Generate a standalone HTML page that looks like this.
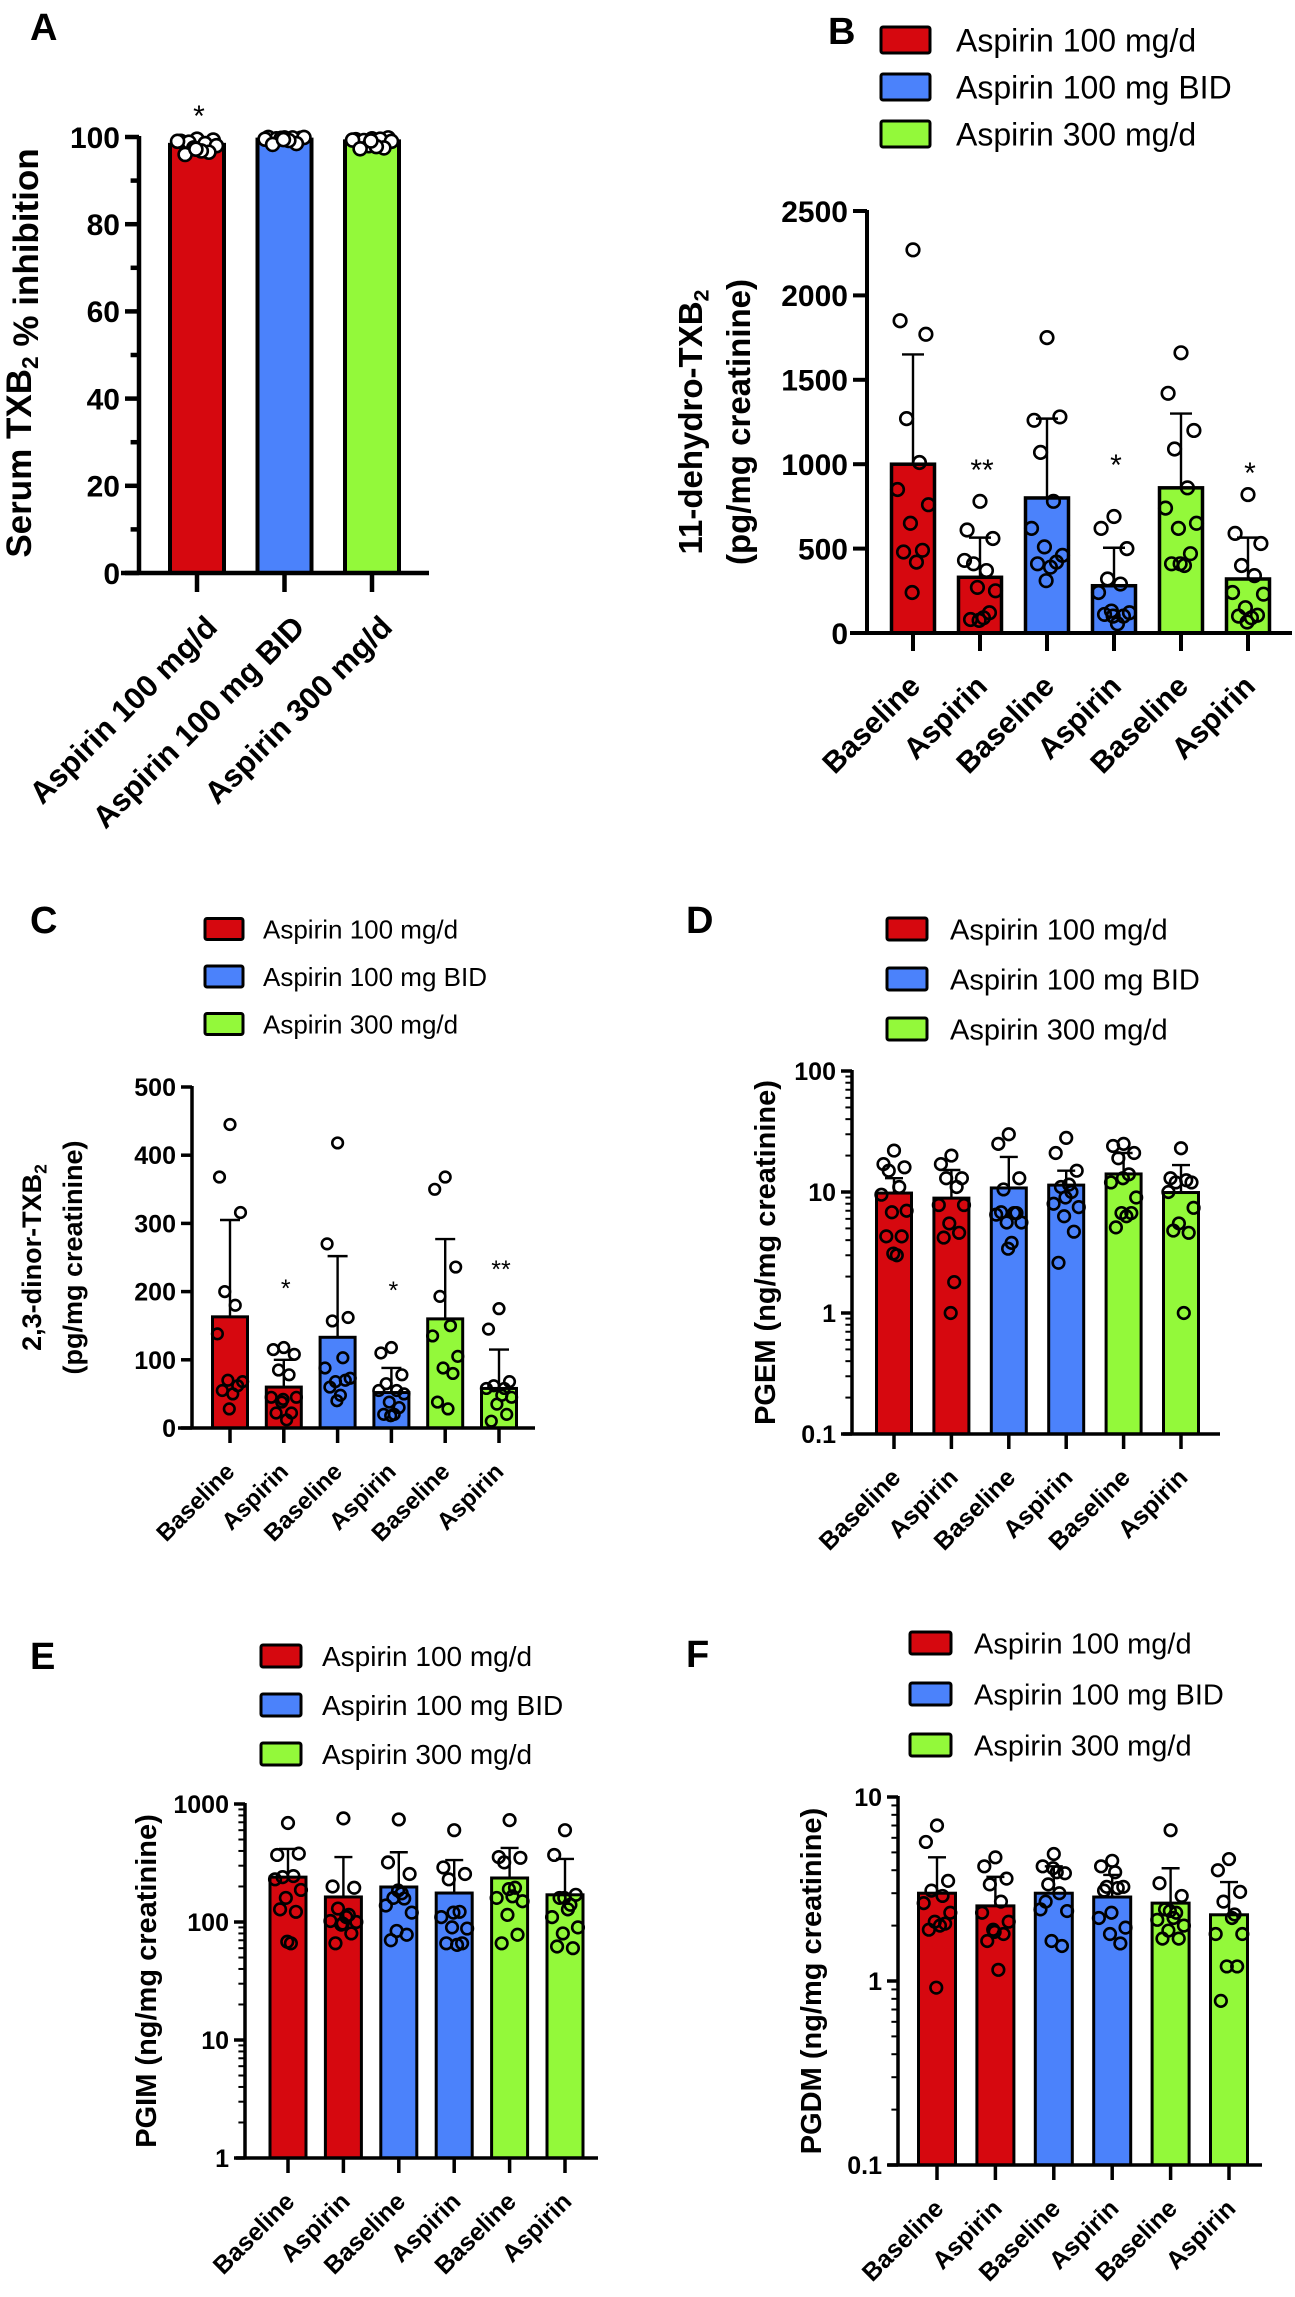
<!DOCTYPE html>
<html><head><meta charset="utf-8"><title>Aspirin eicosanoid panels</title>
<style>
html,body{margin:0;padding:0;background:#fff;}
svg{display:block;font-family:"Liberation Sans",Arial,sans-serif;}
</style></head>
<body>
<svg id="fig" width="1295" height="2297" viewBox="0 0 1295 2297" xmlns="http://www.w3.org/2000/svg"></svg>
<script>
// ---------- data ----------
const GROUPS = ['Aspirin 100 mg/d','Aspirin 100 mg BID','Aspirin 300 mg/d'];
const CATS = ['Baseline','Aspirin','Baseline','Aspirin','Baseline','Aspirin'];
const COLORS = ['#d6080f','#4b82fb','#93f93a'];

// Panel A
const A_MEANS = [98.2, 99.4, 99.0];
const A_POINTS = [
  [99.5,99,99.3,98.8,98.5,99,98,97.5,96.5,96,96.8,97.2],
  [99.8,99.9,99.7,99.6,99.8,99.5,99.9,99.7,98.5,98.3,99.2,99.4],
  [99.6,99.4,99.8,99.2,99.5,99.3,99.0,98,97.5,97.3,97.8,99.1]
];
const A_STARS = ['*','',''];
const A_TICKS = [0,20,40,60,80,100];

// Panel B
const B_MEANS = [1000,330,800,280,860,320];
const B_SD = [1650,565,1270,505,1300,565];
const B_POINTS = [
  [2270,1850,1770,1270,1010,850,760,650,490,480,420,240],
  [780,610,560,410,370,430,250,270,120,80,90,75],
  [1750,1260,1280,1070,780,620,460,510,420,410,390,310],
  [690,620,500,320,290,240,120,130,100,110,55,100],
  [1660,1420,1200,1090,860,740,650,620,470,410,400,410],
  [820,590,530,400,340,240,230,150,105,100,90,65]
];
const B_STARS = ['','**','','*','','*'];
const B_TICKS = [0,500,1000,1500,2000,2500];

// Panel C
const C_MEANS = [163,60,133,52,160,58];
const C_SD = [305,100,252,88,277,115];
const C_POINTS = [
  [445,368,316,200,180,138,68,70,62,55,50,28],
  [118,115,108,85,78,45,45,38,22,22,12,42],
  [418,270,162,157,103,88,73,68,70,60,48,40],
  [118,110,78,65,55,55,50,38,30,20,20,18],
  [368,350,236,193,150,135,105,88,80,38,28],
  [175,145,68,62,58,58,45,35,20,10,48]
];
const C_STARS = ['','*','','*','','**'];
const C_TICKS = [0,100,200,300,400,500];

// Panel D (log)
const D_MEANS = [9.8,8.9,10.8,11.4,14.1,9.9];
const D_SD = [13,15.2,19.5,15,21,16.7];
const D_POINTS = [
  [22,17,16,15,11,9.5,7,6.8,4.3,4.3,3.0,3.1],
  [20,17,13,13,11,7.8,7.8,5.5,4.6,4.2,1.8,1.0],
  [30,25,13,10.5,6.7,6.5,5.6,5.6,6.7,6.8,3.8,3.4],
  [28,21,15,11,10,8,7.5,6.3,4.7,2.6,11.5,9],
  [25,24,21,19,14,12,9,6.7,6.7,5.1,6.3,13],
  [23,13,12,12,12.5,10,7.4,5.5,4.6,4.8,1.0]
];
const D_TICKS = [0.1,1,10,100];
const D_TICK_LABELS = ['0.1','1','10','100'];

// Panel E (log)
const E_MEANS = [240,163,198,176,236,170];
const E_SD = [416,355,390,335,424,342];
const E_POINTS = [
  [690,370,380,240,245,230,187,160,122,128,66,68],
  [755,200,195,130,115,102,100,95,80,66,110,97],
  [740,320,255,160,158,138,120,84,78,70,175,185],
  [600,290,255,230,122,110,88,90,66,66,64,120],
  [730,355,350,320,195,160,150,115,78,66,165,190],
  [600,370,170,160,140,110,90,80,60,62,128,160]
];
const E_TICKS = [1,10,100,1000];
const E_TICK_LABELS = ['1','10','100','1000'];

// Panel F (log)
const F_MEANS = [3.0,2.56,3.0,2.86,2.65,2.29];
const F_SD = [4.7,3.68,4.2,3.77,4.1,3.45];
const F_POINTS = [
  [7.0,5.7,3.5,3.1,2.9,2.65,2.35,2.1,2.05,1.9,2.0,0.92],
  [4.7,4.2,3.6,3.35,2.7,2.35,2.1,1.9,1.8,1.65,1.15,1.85],
  [4.9,4.2,3.85,3.35,3.0,2.45,2.4,1.65,1.55,2.7,3.9,4.1],
  [4.5,4.2,3.25,3.25,3.2,2.2,1.95,1.8,1.6,3.1,3.9,2.35],
  [6.6,3.4,2.9,2.45,2.35,2.15,2.0,1.88,1.7,1.7,2.2,2.4],
  [4.6,4.0,3.05,2.7,2.3,1.8,1.8,1.2,1.2,0.78,2.2]
];
const F_TICKS = [0.1,1,10];
const F_TICK_LABELS = ['0.1','1','10'];

// ---------- drawing ----------
const NS = 'http://www.w3.org/2000/svg';
const svg = document.getElementById('fig');
function mk(tag, attrs, parent){
  const e = document.createElementNS(NS, tag);
  for (const k in attrs) e.setAttribute(k, attrs[k]);
  (parent || svg).appendChild(e);
  return e;
}
function txt(s, attrs, parent){ const t = mk('text', attrs, parent); t.textContent = s; return t; }
const JIT = [0,-0.3,0.3,-0.15,0.15,-0.36,0.36,-0.06,0.22,-0.22,0.08,-0.02];

function panel(cfg){
  const g = mk('g', {});
  
  
  const ys = cfg.log
    ? v => cfg.yBot - (Math.log10(v) - Math.log10(cfg.min)) / (Math.log10(cfg.max) - Math.log10(cfg.min)) * (cfg.yBot - cfg.yTop)
    : v => cfg.yBot - (v - cfg.min) / (cfg.max - cfg.min) * (cfg.yBot - cfg.yTop);
  const n = cfg.means.length;
  for (let i = 0; i < n; i++){
    const cx = cfg.c0 + i * cfg.step;
    const col = COLORS[cfg.colorIdx(i)];
    const bar = mk('rect', {x: cx - cfg.bw/2, y: ys(cfg.means[i]), width: cfg.bw, height: cfg.yBot - ys(cfg.means[i]), fill: col, stroke: '#000', 'stroke-width': cfg.sw}, g);
    
    
    if (cfg.sd){
      const eb = mk('path', {d: `M${cx},${ys(cfg.means[i])}V${ys(cfg.sd[i])}M${cx-cfg.cap},${ys(cfg.sd[i])}H${cx+cfg.cap}`, stroke: '#000', 'stroke-width': 2.4, fill: 'none'}, g);
      
      
    }
    cfg.points[i].forEach((v, j) => {
      const c = mk('circle', {cx: cx + JIT[j % JIT.length] * cfg.bw, cy: ys(v), r: cfg.r, fill: cfg.ptFill, stroke: '#000', 'stroke-width': 2.6}, g);
      
      
    });
    if (cfg.stars && cfg.stars[i]){
      const s = txt(cfg.stars[i], {x: cx + 2, y: cfg.starY[i], 'font-size': cfg.starSize, 'text-anchor': 'middle'}, g);
      
      
    }
    // x tick + label
    mk('line', {x1: cx, y1: cfg.yBot, x2: cx, y2: cfg.yBot + cfg.xtl, stroke: '#000', 'stroke-width': cfg.aw}, g);
    const lx = cx + cfg.lo[0], ly = cfg.yBot + cfg.lo[1];
    const lab = txt(cfg.cats[i], {x: lx, y: ly, 'font-size': cfg.catSize, 'font-weight': 'bold', 'text-anchor': 'end', transform: `rotate(-45 ${lx} ${ly})`}, g);
    
    
  }
  // axes
  const ax = mk('path', {d: `M${cfg.ax},${cfg.yTop - 1}V${cfg.yBot}M${cfg.xa0},${cfg.yBot}H${cfg.xa1}`, stroke: '#000', 'stroke-width': cfg.aw, fill: 'none'}, g);
  
  
  cfg.ticks.forEach((t, k) => {
    const y = ys(t);
    mk('line', {x1: cfg.ax - cfg.tl, y1: y, x2: cfg.ax, y2: y, stroke: '#000', 'stroke-width': cfg.aw}, g);
    const tl = txt(cfg.tickLabels[k], {x: cfg.ax - cfg.tl - 5, y: y + cfg.tickSize * 0.36, 'font-size': cfg.tickSize, 'font-weight': 'bold', 'text-anchor': 'end'}, g);
    
    
  });
  if (cfg.minor){
    cfg.minor.forEach(v => {
      mk('line', {x1: cfg.ax - cfg.tl * 0.6, y1: ys(v), x2: cfg.ax, y2: ys(v), stroke: '#000', 'stroke-width': cfg.log ? 2 : cfg.aw}, g);
    });
  }
  // y title
  const yc = (cfg.yTop + cfg.yBot) / 2 + (cfg.yOff || 0);
  cfg.ytitle.forEach((line, k) => {
    const bx = cfg.ytx[k];
    const t = mk('text', {x: bx, y: yc, 'font-size': cfg.ytSize, 'font-weight': 'bold', 'text-anchor': 'middle', transform: `rotate(-90 ${bx} ${yc})`}, g);
    
    
    line.forEach(part => {
      const s = mk('tspan', part[1] ? {'font-size': cfg.ytSize * 0.65, dy: cfg.ytSize * 0.2} : {}, t);
      s.textContent = part[0];
    });
  });
  // panel letter
  const pl = txt(cfg.letter, {x: cfg.letterPos[0], y: cfg.letterPos[1], 'font-size': 38, 'font-weight': 'bold'}, g);
  
  
  // legend
  if (cfg.legend){
    const L = cfg.legend;
    GROUPS.forEach((name, k) => {
      const cy = L.y0 + k * L.dy;
      const lg = mk('g', {}, g);
      
      
      mk('rect', {x: L.x, y: cy - L.h/2, width: L.w, height: L.h, fill: COLORS[k], stroke: '#000', 'stroke-width': 3, rx: 2}, lg);
      txt(name, {x: L.tx, y: cy + L.fs * 0.36, 'font-size': L.fs}, lg);
    });
  }
}
function logMinor(a, b){ const out = []; for (let d = a; d < b; d *= 10) for (let m = 2; m < 10; m++) out.push(d * m); return out; }

panel({name:'panel-a-serum-txb2', letter:'A', letterPos:[30,40], log:false, min:0, max:100, yTop:137, yBot:573,
  means:A_MEANS, sd:null, points:A_POINTS, cats:GROUPS, colorIdx:i=>i, stars:A_STARS, starY:[126], starSize:30,
  c0:197, step:87.5, bw:54, sw:4, cap:0, r:6.5, ptFill:'#fff', ax:139, xa0:121, xa1:429, aw:4.5, tl:14, xtl:19,
  ticks:A_TICKS, tickLabels:A_TICKS.map(String), tickSize:30, minor:[10,30,50,70,90],
  lo:[22,56], catSize:31, ytitle:[[['Serum TXB'],['2',1],[' % inhibition']]], ytx:[31], ytSize:35, yOff:-2});

panel({name:'panel-b-11-dehydro-txb2', letter:'B', letterPos:[828,44], log:false, min:0, max:2500, yTop:211, yBot:633,
  means:B_MEANS, sd:B_SD, points:B_POINTS, cats:CATS, colorIdx:i=>Math.floor(i/2), stars:B_STARS, starY:[0,480,473,475,0,483], starSize:30,
  c0:913, step:67, bw:43, sw:3.5, cap:11, r:6.3, ptFill:'none', ax:867, xa0:850, xa1:1292, aw:4, tl:14, xtl:18,
  ticks:B_TICKS, tickLabels:B_TICKS.map(String), tickSize:30,
  lo:[9,55], catSize:30, ytitle:[[['11-dehydro-TXB'],['2',1]],[['(pg/mg creatinine)']]], ytx:[702,750], ytSize:33,
  legend:{x:881, w:49, h:26, y0:40, dy:47, tx:956, fs:32}});

panel({name:'panel-c-2-3-dinor-txb2', letter:'C', letterPos:[30,933], log:false, min:0, max:500, yTop:1087, yBot:1428,
  means:C_MEANS, sd:C_SD, points:C_POINTS, cats:CATS, colorIdx:i=>Math.floor(i/2), stars:C_STARS, starY:[0,1297,0,1299,0,1278], starSize:25,
  c0:230, step:53.8, bw:35, sw:3, cap:10, r:5.3, ptFill:'none', ax:192, xa0:178, xa1:535, aw:3.5, tl:11, xtl:15,
  ticks:C_TICKS, tickLabels:C_TICKS.map(String), tickSize:25,
  lo:[6,45], catSize:24, ytitle:[[['2,3-dinor-TXB'],['2',1]],[['(pg/mg creatinine)']]], ytx:[41,82], ytSize:27,
  legend:{x:205, w:38, h:21, y0:929, dy:47.5, tx:263, fs:26}});

panel({name:'panel-d-pgem', letter:'D', letterPos:[686,933], log:true, min:0.1, max:100, yTop:1071, yBot:1434,
  means:D_MEANS, sd:D_SD, points:D_POINTS, cats:CATS, colorIdx:i=>Math.floor(i/2), stars:null,
  c0:894, step:57.4, bw:35, sw:3, cap:9, r:5.8, ptFill:'none', ax:852, xa0:843, xa1:1220, aw:3.5, tl:11, xtl:15,
  ticks:D_TICKS, tickLabels:D_TICK_LABELS, tickSize:25, minor:logMinor(0.1,100),
  lo:[8,45], catSize:25, ytitle:[[['PGEM (ng/mg creatinine)']]], ytx:[775], ytSize:29,
  legend:{x:887, w:40, h:22, y0:929, dy:50, tx:950, fs:29}});

panel({name:'panel-e-pgim', letter:'E', letterPos:[30,1669], log:true, min:1, max:1000, yTop:1804, yBot:2158,
  means:E_MEANS, sd:E_SD, points:E_POINTS, cats:CATS, colorIdx:i=>Math.floor(i/2), stars:null,
  c0:288, step:55.4, bw:36, sw:3, cap:9, r:5.8, ptFill:'none', ax:245, xa0:236, xa1:598, aw:3.5, tl:11, xtl:15,
  ticks:E_TICKS, tickLabels:E_TICK_LABELS, tickSize:25, minor:logMinor(1,1000),
  lo:[8,45], catSize:25, ytitle:[[['PGIM (ng/mg creatinine)']]], ytx:[156], ytSize:29,
  legend:{x:261, w:40, h:22, y0:1656, dy:49, tx:322, fs:28}});

panel({name:'panel-f-pgdm', letter:'F', letterPos:[686,1667], log:true, min:0.1, max:10, yTop:1797, yBot:2165,
  means:F_MEANS, sd:F_SD, points:F_POINTS, cats:CATS, colorIdx:i=>Math.floor(i/2), stars:null,
  c0:937, step:58.4, bw:37, sw:3, cap:9, r:5.8, ptFill:'none', ax:898, xa0:888, xa1:1262, aw:3.5, tl:11, xtl:15,
  ticks:F_TICKS, tickLabels:F_TICK_LABELS, tickSize:25, minor:logMinor(0.1,10),
  lo:[8,45], catSize:25, ytitle:[[['PGDM (ng/mg creatinine)']]], ytx:[821], ytSize:29,
  legend:{x:910, w:41, h:22, y0:1643, dy:51, tx:974, fs:29}});
</script>
</body></html>
